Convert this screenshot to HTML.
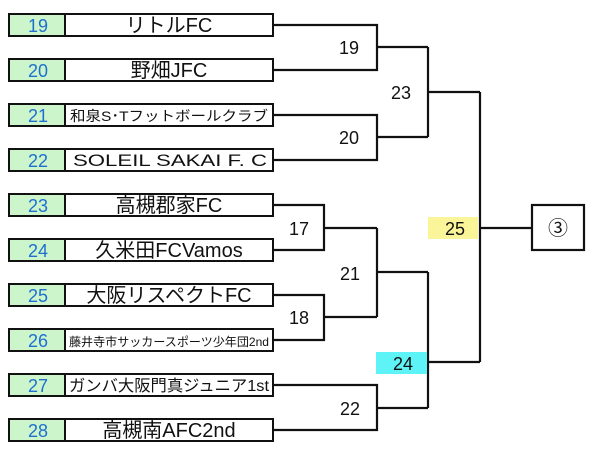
<!DOCTYPE html>
<html><head><meta charset="utf-8"><style>
body{margin:0;background:#fff}
svg text{font-family:"Liberation Sans","Noto Sans CJK JP",sans-serif}
</style></head><body>
<svg width="600" height="446" viewBox="0 0 600 446" xmlns="http://www.w3.org/2000/svg">
<g stroke="#111" stroke-width="2.2" fill="none">
<path d="M273 25H377V70H273M377 47H428"/>
<path d="M273 115H377V160H273M377 137H428"/>
<path d="M428 47V137M428 92H480"/>
<path d="M273 205H324V250H273M324 228H377"/>
<path d="M273 295H324V340H273M324 317H377"/>
<path d="M377 228V317M377 272H428"/>
<path d="M273 385H377V430H273M377 408H428"/>
<path d="M428 272V408M428 362H480"/>
<path d="M480 92V362M480 228H532"/>
</g>
<rect x="428" y="217" width="50" height="22" fill="#fbf59a"/>
<rect x="376" y="352" width="51" height="22" fill="#5ef3f6"/>
<rect x="532" y="205" width="52" height="45" fill="#fff" stroke="#111" stroke-width="2.2"/>
<g font-size="18" fill="#111" text-anchor="middle">
<text x="349" y="54">19</text>
<text x="401" y="99">23</text>
<text x="349" y="144">20</text>
<text x="299" y="235">17</text>
<text x="350" y="280">21</text>
<text x="299" y="324">18</text>
<text x="350" y="415">22</text>
<text x="455" y="235">25</text>
<text x="403" y="370">24</text>
<text x="558" y="235" font-size="20">③</text>
</g>
<g stroke="#111" stroke-width="2">
<rect x="9" y="14" width="56" height="22" fill="#ccf5cc"/><rect x="65" y="14" width="208" height="22" fill="#fff"/>
<rect x="9" y="59" width="56" height="22" fill="#ccf5cc"/><rect x="65" y="59" width="208" height="22" fill="#fff"/>
<rect x="9" y="104" width="56" height="22" fill="#ccf5cc"/><rect x="65" y="104" width="208" height="22" fill="#fff"/>
<rect x="9" y="149" width="56" height="22" fill="#ccf5cc"/><rect x="65" y="149" width="208" height="22" fill="#fff"/>
<rect x="9" y="194" width="56" height="22" fill="#ccf5cc"/><rect x="65" y="194" width="208" height="22" fill="#fff"/>
<rect x="9" y="239" width="56" height="22" fill="#ccf5cc"/><rect x="65" y="239" width="208" height="22" fill="#fff"/>
<rect x="9" y="284" width="56" height="22" fill="#ccf5cc"/><rect x="65" y="284" width="208" height="22" fill="#fff"/>
<rect x="9" y="329" width="56" height="22" fill="#ccf5cc"/><rect x="65" y="329" width="208" height="22" fill="#fff"/>
<rect x="9" y="374" width="56" height="22" fill="#ccf5cc"/><rect x="65" y="374" width="208" height="22" fill="#fff"/>
<rect x="9" y="419" width="56" height="22" fill="#ccf5cc"/><rect x="65" y="419" width="208" height="22" fill="#fff"/>
</g>
<g font-size="18" fill="#1e6fd0" text-anchor="middle">
<text x="38" y="32">19</text><text x="38" y="77">20</text><text x="38" y="122">21</text><text x="38" y="167">22</text><text x="38" y="212">23</text>
<text x="38" y="257">24</text><text x="38" y="302">25</text><text x="38" y="347">26</text><text x="38" y="392">27</text><text x="38" y="437">28</text>
</g>
<g fill="#111" text-anchor="middle">
<text x="169" y="32" font-size="20">リトルFC</text>
<text x="169" y="77" font-size="20">野畑JFC</text>
<text x="169" y="121" font-size="14" textLength="198" lengthAdjust="spacingAndGlyphs">和泉S･Tフットボールクラブ</text>
<text x="170" y="166" font-size="17" textLength="194" lengthAdjust="spacingAndGlyphs">SOLEIL  SAKAI  F. C</text>
<text x="169" y="212" font-size="20">高槻郡家FC</text>
<text x="169" y="257" font-size="20">久米田FCVamos</text>
<text x="169" y="302" font-size="20">大阪リスペクトFC</text>
<text x="169" y="346" font-size="12" textLength="200" lengthAdjust="spacingAndGlyphs">藤井寺市サッカースポーツ少年団2nd</text>
<text x="169" y="391" font-size="16" textLength="200" lengthAdjust="spacingAndGlyphs">ガンバ大阪門真ジュニア1st</text>
<text x="169" y="437" font-size="20">高槻南AFC2nd</text>
</g>
</svg>
</body></html>
